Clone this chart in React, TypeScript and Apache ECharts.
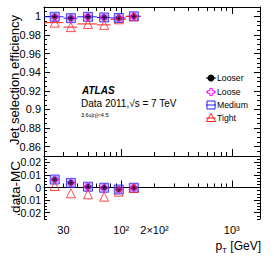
import React, { useEffect, useRef } from 'react';
import * as echarts from 'echarts';

const ptCenters = [25, 35, 50, 70, 95, 130];
const ptLow = [20, 30, 40, 60, 80, 110];
const ptHigh = [30, 40, 60, 80, 110, 150];

const effLooser = [0.9995, 0.998, 0.9995, 0.9988, 0.9982, 1.0];
const effLoose = [0.9995, 0.998, 0.9995, 0.9988, 0.9982, 1.0];
const effMedium = [0.9995, 0.998, 0.9995, 0.9988, 0.9982, 1.0];
const effTight = [0.9932, 0.9884, 0.9918, 0.9908, 0.9968, 1.0];

const diffLooser = [0.0063, 0.0037, 0.0006, -0.0002, -0.0016, -0.0002];
const diffLoose = [0.0063, 0.0037, 0.0006, -0.0002, -0.0016, -0.0002];
const diffMedium = [0.0063, 0.0037, 0.0006, -0.0002, -0.0016, -0.0002];
const diffTight = [0.0012, -0.0046, -0.0054, -0.0073, -0.0033, -0.0004];

const effTicks = [0.86, 0.88, 0.9, 0.92, 0.94, 0.96, 0.98, 1];
const diffTicks = [-0.02, -0.01, 0, 0.01, 0.02];
const xLabelValues = [30, 100, 200, 1000];
const xLabelTexts = ['30', '10²', '2×10²', '10³'];
const xMajorTicks = [100, 1000];
const xMinorTicks = [30, 40, 50, 60, 70, 80, 90, 200, 300, 400, 500, 600, 700, 800, 900];

const legendNames = ['Looser', 'Loose', 'Medium', 'Tight'];

const FONT = '"Liberation Sans", Arial, Helvetica, sans-serif';
const lg = (v: number) => Math.log10(v);
const X_MIN = lg(20);
const X_MAX = lg(1800);
const BLACK = '#000000';
const BLUE = '#1f1fff';
const RED = '#ff2020';
const MAGENTA = '#ff00ff';
const CROSS = 'path://M2,0 L4,0 L4,2 L6,2 L6,4 L4,4 L4,6 L2,6 L2,4 L0,4 L0,2 L2,2 Z';

const fmtNum = (v: number) => {
  const s = parseFloat(v.toFixed(4)).toString();
  return s === '-0' ? '0' : s;
};

function xAxis(grid: number, position: string, ticks: number[], len: number, showLine: boolean, labels: boolean) {
  return {
    type: 'value',
    gridIndex: grid,
    position,
    min: X_MIN,
    max: X_MAX,
    axisLine: { show: showLine, lineStyle: { color: BLACK, width: 1 } },
    axisTick: {
      show: true,
      inside: true,
      length: len,
      customValues: ticks.map(lg),
      lineStyle: { color: BLACK, width: 1 },
    },
    axisLabel: labels
      ? {
          show: true,
          customValues: xLabelValues.map(lg),
          fontFamily: FONT,
          fontSize: 11,
          color: BLACK,
          margin: 5,
          formatter: (v: number) => {
            const p = Math.pow(10, v);
            for (let i = 0; i < xLabelValues.length; i++) {
              if (Math.abs(p - xLabelValues[i]) / xLabelValues[i] < 0.01) return xLabelTexts[i];
            }
            return '';
          },
        }
      : { show: false },
    splitLine: { show: false },
  };
}

function yAxis(grid: number, position: string, min: number, max: number, majors: number[] | null, minorInterval: number | null, len: number, showLine: boolean, labelSize: number) {
  const a: any = {
    type: 'value',
    gridIndex: grid,
    position,
    min,
    max,
    axisLine: { show: showLine, lineStyle: { color: BLACK, width: 1 } },
    axisTick: { show: true, inside: true, length: len, lineStyle: { color: BLACK, width: 1 } },
    axisLabel: { show: false },
    splitLine: { show: false },
  };
  if (majors) {
    a.axisTick.customValues = majors;
    if (labelSize > 0) {
      a.axisLabel = {
        show: true,
        customValues: majors,
        fontFamily: FONT,
        fontSize: labelSize,
        color: BLACK,
        margin: 3,
        hideOverlap: false,
        formatter: (v: number) => fmtNum(v),
      };
    }
  } else if (minorInterval) {
    a.interval = minorInterval;
  }
  return a;
}

function errorBars(name: string, grid: number, values: number[], color: string) {
  return {
    type: 'custom',
    name,
    xAxisIndex: grid === 0 ? 0 : 4,
    yAxisIndex: grid === 0 ? 0 : 4,
    silent: true,
    clip: true,
    encode: { x: [0, 1], y: 2 },
    data: ptLow.map((l, i) => [lg(l), lg(ptHigh[i]), values[i]]),
    renderItem: (_p: any, api: any) => {
      const a = api.coord([api.value(0), api.value(2)]);
      const b = api.coord([api.value(1), api.value(2)]);
      return {
        type: 'line',
        shape: { x1: a[0], y1: a[1], x2: b[0], y2: b[1] },
        style: { stroke: color, lineWidth: 1 },
      };
    },
  };
}

function markers(grid: number, looser: number[], loose: number[], medium: number[], tight: number[]) {
  const xi = grid === 0 ? 0 : 4;
  const yi = grid === 0 ? 0 : 4;
  const pts = (vals: number[]) => ptCenters.map((p, i) => [lg(p), vals[i]]);
  return [
    {
      type: 'scatter', name: 'Medium', xAxisIndex: xi, yAxisIndex: yi, silent: true,
      symbol: 'rect', symbolSize: 9, data: pts(medium),
      itemStyle: { color: 'rgba(110,110,255,0.55)', borderColor: BLUE, borderWidth: 1 },
    },
    {
      type: 'scatter', name: 'Looser', xAxisIndex: xi, yAxisIndex: yi, silent: true,
      symbol: 'circle', symbolSize: 6, data: pts(looser),
      itemStyle: { color: BLACK },
    },
    {
      type: 'scatter', name: 'Loose', xAxisIndex: xi, yAxisIndex: yi, silent: true,
      symbol: CROSS, symbolSize: 7, data: pts(loose),
      itemStyle: { color: 'none', borderColor: MAGENTA, borderWidth: 1 },
    },
    {
      type: 'scatter', name: 'Tight', xAxisIndex: xi, yAxisIndex: yi, silent: true,
      symbol: 'triangle', symbolSize: 9, data: pts(tight),
      itemStyle: { color: 'none', borderColor: RED, borderWidth: 1 },
    },
  ];
}

function legendGraphics() {
  const rows = [78, 92, 105, 118];
  const mx = 211;
  const items: any[] = [];
  const colors = [BLACK, MAGENTA, BLUE, RED];
  legendNames.forEach((name, i) => {
    const y = rows[i];
    items.push({
      type: 'line', shape: { x1: mx - 5, y1: y, x2: mx + 5, y2: y },
      style: { stroke: colors[i], lineWidth: 1 }, silent: true,
    });
    if (i === 0) {
      items.push({ type: 'circle', shape: { cx: mx, cy: y, r: 3.5 }, style: { fill: BLACK }, silent: true });
    } else if (i === 1) {
      const s = 1.2;
      const pts = [[-1, -3], [1, -3], [1, -1], [3, -1], [3, 1], [1, 1], [1, 3], [-1, 3], [-1, 1], [-3, 1], [-3, -1], [-1, -1]].map(
        (p) => [mx + p[0] * s, y + p[1] * s]
      );
      items.push({ type: 'polygon', shape: { points: pts }, style: { fill: '#ffffff', stroke: MAGENTA, lineWidth: 1 }, silent: true });
    } else if (i === 2) {
      items.push({ type: 'rect', shape: { x: mx - 4, y: y - 4, width: 8, height: 8 }, style: { fill: 'none', stroke: BLUE, lineWidth: 1 }, silent: true });
    } else {
      items.push({
        type: 'polygon',
        shape: { points: [[mx, y - 4.5], [mx + 4.5, y + 3.5], [mx - 4.5, y + 3.5]] },
        style: { fill: 'none', stroke: RED, lineWidth: 1 }, silent: true,
      });
    }
    items.push({
      type: 'text', x: 217, y, silent: true,
      style: { text: name, fontFamily: FONT, fontSize: 8.7, fill: BLACK, align: 'left', verticalAlign: 'middle' },
    });
  });
  return items;
}

export default function App() {
  const ref = useRef<HTMLDivElement>(null);
  useEffect(() => {
    if (!ref.current) return;
    const chart = echarts.init(ref.current, undefined, { renderer: 'svg' });
    const option: any = {
      animation: false,
      backgroundColor: '#ffffff',
      grid: [
        { left: 44, top: 7, width: 216, height: 149 },
        { left: 44, top: 156, width: 216, height: 63 },
      ],
      xAxis: [
        xAxis(0, 'bottom', xMajorTicks, 7, true, false),
        xAxis(0, 'bottom', xMinorTicks, 4, false, false),
        xAxis(0, 'top', xMajorTicks, 7, true, false),
        xAxis(0, 'top', xMinorTicks, 4, false, false),
        xAxis(1, 'bottom', xMajorTicks, 7, true, true),
        xAxis(1, 'bottom', xMinorTicks, 4, false, false),
      ],
      yAxis: [
        yAxis(0, 'left', 0.85, 1.01, effTicks, null, 6, true, 11),
        yAxis(0, 'left', 0.85, 1.01, null, 0.005, 3, false, 0),
        yAxis(0, 'right', 0.85, 1.01, effTicks, null, 6, true, 0),
        yAxis(0, 'right', 0.85, 1.01, null, 0.005, 3, false, 0),
        yAxis(1, 'left', -0.025, 0.025, diffTicks, null, 6, true, 10.5),
        yAxis(1, 'left', -0.025, 0.025, null, 0.0025, 3, false, 0),
        yAxis(1, 'right', -0.025, 0.025, diffTicks, null, 6, true, 0),
        yAxis(1, 'right', -0.025, 0.025, null, 0.0025, 3, false, 0),
      ],
      series: [
        errorBars('Medium', 0, effMedium, BLUE),
        errorBars('Tight', 0, effTight, RED),
        ...markers(0, effLooser, effLoose, effMedium, effTight),
        ...markers(1, diffLooser, diffLoose, diffMedium, diffTight),
      ],
      graphic: [
        {
          type: 'text', x: 14, y: 80, rotation: Math.PI / 2, silent: true,
          style: { text: 'Jet selection efficiency', fontFamily: FONT, fontSize: 13, fill: BLACK, align: 'center', verticalAlign: 'middle' },
        },
        {
          type: 'text', x: 15, y: 187, rotation: Math.PI / 2, silent: true,
          style: { text: 'data-MC', fontFamily: FONT, fontSize: 13.5, fill: BLACK, align: 'center', verticalAlign: 'middle' },
        },
        {
          type: 'text', x: 261, y: 246, silent: true,
          style: {
            text: '{a|p}{b|T}{a| [GeV]}',
            align: 'right', verticalAlign: 'middle',
            rich: {
              a: { fontFamily: FONT, fontSize: 12, fill: BLACK },
              b: { fontFamily: FONT, fontSize: 8, fill: BLACK, padding: [9, 0, 0, 0] },
            },
          },
        },
        {
          type: 'text', x: 82, y: 90, silent: true,
          style: { text: 'ATLAS', fontFamily: FONT, fontSize: 10, fontWeight: 'bold', fontStyle: 'italic', fill: BLACK, align: 'left', verticalAlign: 'middle' },
        },
        {
          type: 'text', x: 81, y: 103, silent: true,
          style: { text: 'Data 2011,√s = 7 TeV', fontFamily: FONT, fontSize: 10, fill: BLACK, align: 'left', verticalAlign: 'middle' },
        },
        {
          type: 'text', x: 81, y: 115, silent: true,
          style: { text: '3.6≤|η|<4.5', fontFamily: FONT, fontSize: 5.5, fill: BLACK, align: 'left', verticalAlign: 'middle' },
        },
        ...legendGraphics(),
      ],
    };
    chart.setOption(option);
    return () => chart.dispose();
  }, []);
  return (
    <div
      ref={ref}
      style={{ position: 'absolute', left: 0, top: 0, width: 274, height: 261, background: '#ffffff' }}
    />
  );
}
